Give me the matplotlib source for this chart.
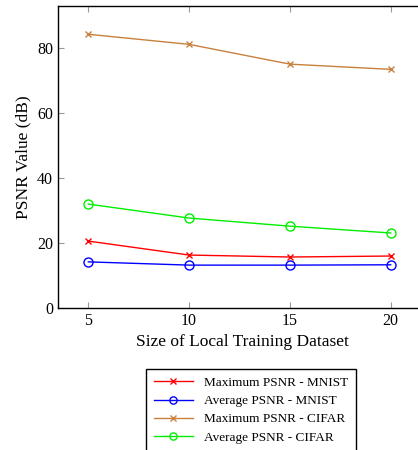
import matplotlib
matplotlib.use('Agg')
import matplotlib.pyplot as plt

sizes = [5, 10, 15, 20]
max_mnist = [20.6, 16.3, 15.7, 16.0]
avg_mnist = [14.2, 13.2, 13.2, 13.3]
max_cifar = [84.3, 81.2, 75.1, 73.5]
avg_cifar = [32.0, 27.7, 25.2, 23.1]

plt.rcParams['font.family'] = 'Liberation Serif'
plt.rcParams['font.size'] = 11.5

fig = plt.figure(figsize=(4.18, 4.5), dpi=100)
ax = fig.add_axes([0.139, 0.3156, 0.88, 0.671])

ax.plot(sizes, max_mnist, color='red', marker='x', ms=5, lw=1, label='Maximum PSNR - MNIST')
ax.plot(sizes, avg_mnist, color='blue', marker='o', ms=6.5, mfc='none', lw=1, label='Average PSNR - MNIST')
ax.plot(sizes, max_cifar, color='#c8803c', marker='x', ms=5, lw=1, label='Maximum PSNR - CIFAR')
ax.plot(sizes, avg_cifar, color='#00ee00', marker='o', ms=6.5, mfc='none', lw=1, label='Average PSNR - CIFAR')

ax.set_xlim(3.5, 21.75)
ax.set_ylim(0, 93)
ax.set_xticks(sizes)
ax.set_yticks([0, 20, 40, 60, 80])
ax.tick_params(direction='in', top=True, right=True, length=4, color='#999999')
for s in ax.spines.values():
    s.set_linewidth(1)
ax.set_xlabel('Size of Local Training Dataset', fontsize=12.5)
ax.set_ylabel('PSNR Value (dB)', fontsize=12.5)

fig.legend(loc='upper center', bbox_to_anchor=(0.6, 0.195), fontsize=9.5,
           fancybox=False, edgecolor='black', framealpha=1, handlelength=3,
           markerscale=0.8, borderpad=0.6, labelspacing=0.45)

fig.savefig('out.png', dpi=100)
